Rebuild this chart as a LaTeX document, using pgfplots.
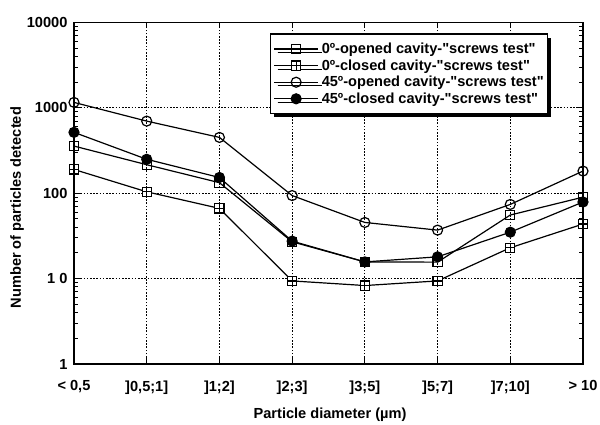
\documentclass[border=0pt]{standalone}
\usepackage{fontspec}
\setmainfont{Liberation Sans}[Ligatures=TeXOff]
\usepackage{pgfplots}
\pgfplotsset{compat=1.18}
\usetikzlibrary{shadows}

% square with a cross inside
\pgfdeclareplotmark{boxplus}{%
  \pgfpathrectangle{\pgfqpoint{-\pgfplotmarksize}{-\pgfplotmarksize}}%
    {\pgfqpoint{2\pgfplotmarksize}{2\pgfplotmarksize}}%
  \pgfusepathqfillstroke
  \pgfpathmoveto{\pgfqpoint{-\pgfplotmarksize}{0pt}}%
  \pgfpathlineto{\pgfqpoint{\pgfplotmarksize}{0pt}}%
  \pgfpathmoveto{\pgfqpoint{0pt}{-\pgfplotmarksize}}%
  \pgfpathlineto{\pgfqpoint{0pt}{\pgfplotmarksize}}%
  \pgfusepathqstroke}

\newcommand{\chartfont}{\fontsize{14.6}{16}\selectfont\bfseries}

\begin{document}
\begin{tikzpicture}
\useasboundingbox (-74pt,-60pt) rectangle (526pt,364pt);
\begin{axis}[
  at={(0,0)}, anchor=south west,
  scale only axis, width=509pt, height=341.5pt,
  ymode=log, ymin=1, ymax=10000,
  xmin=0, xmax=7,
  xtick={0,...,7},
  xticklabels={{< 0,5},{]0,5;1]},{]1;2]},{]2;3]},{]3;5]},{]5;7]},{]7;10]},{> 10}},
  ytick={1,10,100,1000,10000},
  yticklabels={1,1 0,100,1000,10000},
  minor ytick={2,3,4,5,6,7,8,9,20,30,40,50,60,70,80,90,200,300,400,500,600,700,800,900,2000,3000,4000,5000,6000,7000,8000,9000},
  yticklabel pos=left,
  xticklabel pos=bottom,
  tick align=inside,
  major tick length=6pt, minor tick length=4pt,
  every tick/.style={black, line width=1pt},
  grid=major,
  major grid style={black, line width=0.9pt, dash pattern=on 1.6pt off 1.6pt},
  axis line style={line width=1.5pt},
  tick label style={font=\chartfont},
  xticklabel style={yshift=-13pt},
  yticklabel style={xshift=-3pt},
  label style={font=\chartfont},
  xlabel={Particle diameter (µm)},
  ylabel={Number of particles detected},
  xlabel style={at={(axis description cs:0.503,-0.15)}, anchor=center},
  ylabel style={at={(axis description cs:-0.112,0.458)}, anchor=center},
  legend style={at={(0.385,0.968)}, anchor=north west, draw=black,
    line width=1.2pt, fill=white, font=\chartfont,
    drop shadow={shadow xshift=3.5pt, shadow yshift=-3.5pt, fill=black, opacity=1},
    inner xsep=3pt, inner ysep=8pt, row sep=2.5pt, column sep=2pt,
    nodes={inner sep=1pt}},
  legend cell align=left,
  legend image code/.code={%
    \draw[mark repeat=2, mark phase=2, #1]
      plot coordinates {(0pt,0pt) (22pt,0pt) (44pt,0pt)};},
  every axis plot/.append style={black, line width=1.2pt,
    mark options={solid, line width=1.1pt}},
]
\addplot[mark=square, mark size=4.6pt, mark options={fill=white}]
  coordinates {(0,357) (1,216) (2,133) (3,27) (4,15.7) (5,15.6) (6,55.6) (7,90)};
\addlegendentry{0º-opened cavity-"screws test"}
\addplot[mark=boxplus, mark size=4.6pt, mark options={fill=white}]
  coordinates {(0,190) (1,104) (2,66.5) (3,9.4) (4,8.3) (5,9.4) (6,23) (7,43.6)};
\addlegendentry{0º-closed cavity-"screws test"}
\addplot[mark=o, mark size=5pt, mark options={fill=white}]
  coordinates {(0,1159) (1,700) (2,451) (3,94) (4,45.5) (5,37) (6,74) (7,182)};
\addlegendentry{45º-opened cavity-"screws test"}
\addplot[mark=*, mark size=5pt, mark options={fill=black}]
  coordinates {(0,517) (1,250) (2,153) (3,27.5) (4,15.7) (5,18) (6,35) (7,79)};
\addlegendentry{45º-closed cavity-"screws test"}
\end{axis}
\end{tikzpicture}
\end{document}
